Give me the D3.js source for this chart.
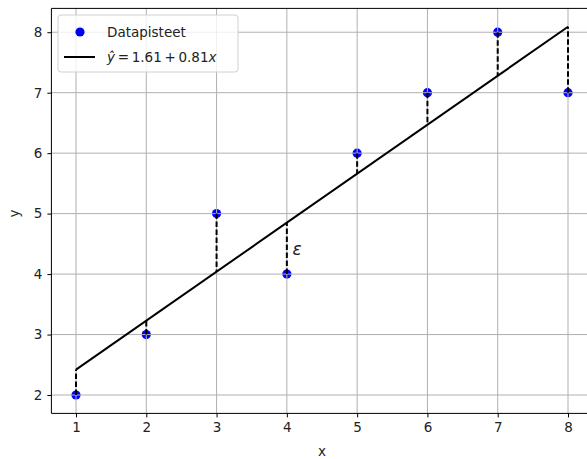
<!DOCTYPE html>
<html>
<head>
<meta charset="utf-8">
<script src="https://cdn.jsdelivr.net/npm/d3@7"></script>
<style>
  body { margin: 0; background: #fff; }
  text { font-family: "DejaVu Sans", sans-serif; fill: #222; }
</style>
</head>
<body>
<svg id="chart" width="587" height="459"></svg>
<script>
// data
let xs = [1, 2, 3, 4, 5, 6, 7, 8];
let ys = [2, 3, 5, 4, 6, 7, 8, 7];
// fitted values on the line, same x's
let fitY = [2.42, 3.23, 4.04, 4.85, 5.66, 6.47, 7.28, 8.09];
let xTicks = [1, 2, 3, 4, 5, 6, 7, 8];
let yTicks = [2, 3, 4, 5, 6, 7, 8];
let pointLabel = "Datapisteet";

let svg = d3.select("#chart");

// x range goes past the right edge of the window (figure is cropped)
let xScale = d3.scaleLinear().domain([0.65, 8.35]).range([51.4, 592.6]);
let yScale = d3.scaleLinear().domain([1.696, 8.394]).range([413.4, 8.4]);

let g = svg.append("g");

// points sit under the grid like in matplotlib
let pts = xs.map((x, i) => ({x: x, y: ys[i], f: fitY[i]}));
g.selectAll("circle").data(pts).enter().append("circle")
    .attr("cx", d => xScale(d.x)).attr("cy", d => yScale(d.y))
    .attr("r", 4.6).attr("fill", "#0000ff");

// grid
g.selectAll(".vgrid").data(xTicks).enter().append("line")
    .attr("x1", d => xScale(d)).attr("x2", d => xScale(d))
    .attr("y1", yScale.range()[0]).attr("y2", yScale.range()[1])
    .attr("stroke", "#b0b0b0").attr("stroke-width", 1);
g.selectAll(".hgrid").data(yTicks).enter().append("line")
    .attr("x1", 51.4).attr("x2", 587)
    .attr("y1", d => yScale(d)).attr("y2", d => yScale(d))
    .attr("stroke", "#b0b0b0").attr("stroke-width", 1);

// residuals
g.selectAll(".res").data(pts).enter().append("line")
    .attr("x1", d => xScale(d.x)).attr("x2", d => xScale(d.x))
    .attr("y1", d => yScale(d.y)).attr("y2", d => yScale(d.f))
    .attr("stroke", "#000").attr("stroke-width", 2)
    .attr("stroke-dasharray", "5.5,2.5");

// fitted line
let line = d3.line().x(d => xScale(d.x)).y(d => yScale(d.f));
g.append("path").datum([pts[0], pts[pts.length - 1]])
    .attr("d", line).attr("fill", "none")
    .attr("stroke", "#000").attr("stroke-width", 2);

// epsilon label
g.append("text").attr("x", xScale(4.08)).attr("y", yScale(4.32))
    .attr("font-size", 17).attr("font-style", "italic").text("ε");

// axes
let xAxis = d3.axisBottom(xScale).tickValues(xTicks).tickSize(4).tickPadding(5).tickFormat(d3.format("d"));
let ax = svg.append("g").attr("transform", "translate(0," + yScale.range()[0] + ")").call(xAxis);
let yAxis = d3.axisLeft(yScale).tickValues(yTicks).tickSize(4).tickPadding(5).tickFormat(d3.format("d"));
let ay = svg.append("g").attr("transform", "translate(" + 51.4 + ",0)").call(yAxis);
[ax, ay].forEach(a => {
    a.select(".domain").remove();
    a.selectAll("text").attr("font-size", 13.5).attr("font-family", "DejaVu Sans").attr("fill", "#222");
    a.selectAll("line").attr("stroke", "#000").attr("stroke-width", 1);
});

// spines
svg.append("line").attr("x1", 51.4).attr("x2", 51.4).attr("y1", 8.4).attr("y2", 413.4)
    .attr("stroke", "#000").attr("stroke-width", 1);
svg.append("line").attr("x1", 51.4).attr("x2", 587).attr("y1", 413.4).attr("y2", 413.4)
    .attr("stroke", "#000").attr("stroke-width", 1);
svg.append("line").attr("x1", 51.4).attr("x2", 587).attr("y1", 8.4).attr("y2", 8.4)
    .attr("stroke", "#000").attr("stroke-width", 1);

// axis labels
svg.append("text").attr("x", xScale(4.5)).attr("y", 456).attr("text-anchor", "middle")
    .attr("font-size", 13.5).text("x");
svg.append("text").attr("transform", "translate(19," + yScale(5) + ") rotate(-90)")
    .attr("text-anchor", "middle").attr("font-size", 13.5).text("y");

// legend
let lg = svg.append("g").attr("transform", "translate(58,15)");
lg.append("rect").attr("width", 180).attr("height", 57).attr("rx", 3)
    .attr("fill", "#fff").attr("fill-opacity", 0.8)
    .attr("stroke", "#d0d0d0").attr("stroke-width", 1);
lg.append("circle").attr("cx", 22).attr("cy", 17).attr("r", 4.6).attr("fill", "#0000ff");
lg.append("text").attr("x", 49).attr("y", 21.5).attr("font-size", 13.5).text(pointLabel);
lg.append("line").attr("x1", 6).attr("x2", 37).attr("y1", 42).attr("y2", 42)
    .attr("stroke", "#000").attr("stroke-width", 2);
let eq = lg.append("text").attr("x", 49).attr("y", 46.5).attr("font-size", 13.5);
eq.append("tspan").attr("font-style", "italic").text("ŷ");
eq.append("tspan").text("\u2009=\u20091.61\u2009+\u20090.81");
eq.append("tspan").attr("font-style", "italic").text("x");
</script>
</body>
</html>
